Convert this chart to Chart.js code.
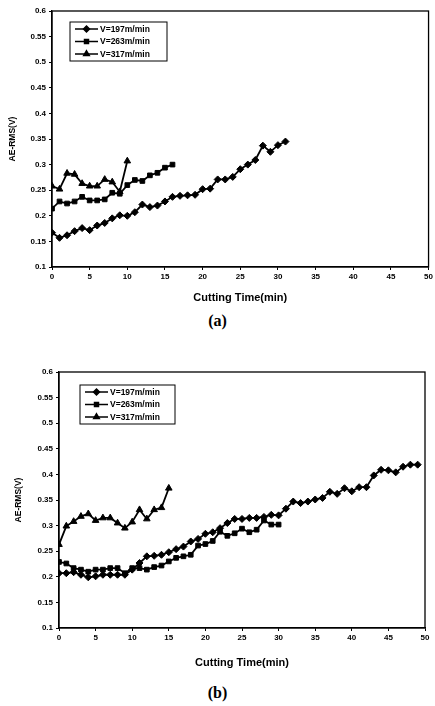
<!DOCTYPE html>
<html>
<head>
<meta charset="utf-8">
<script src="https://cdn.jsdelivr.net/npm/chart.js@4.4.0/dist/chart.umd.min.js"></script>
<style>
  body { margin: 0; background: #fff; width: 435px; height: 706px; position: relative; overflow: hidden; }
  .box { position: absolute; left: 0; width: 435px; }
  .cap { position: absolute; left: 0; width: 435px; text-align: center; font: bold 16px "Liberation Serif", serif; color: #000; }
</style>
</head>
<body>
<div class="box" style="top:0;height:305px"><canvas id="chartA"></canvas></div>
<div class="cap" style="top:312px">(a)</div>
<div class="box" style="top:360px;height:310px"><canvas id="chartB"></canvas></div>
<div class="cap" style="top:684px">(b)</div>
<script>
const labels = ['V=197m/min', 'V=263m/min', 'V=317m/min'];
const xTicks = [0, 5, 10, 15, 20, 25, 30, 35, 40, 45, 50];
const yTicks = [0.1, 0.15, 0.2, 0.25, 0.3, 0.35, 0.4, 0.45, 0.5, 0.55, 0.6];
const yTickLabels = ['0.1', '0.15', '0.2', '0.25', '0.3', '0.35', '0.4', '0.45', '0.5', '0.55', '0.6'];

// (a) values, one per minute starting at 0
const a197 = [0.167, 0.157, 0.162, 0.170, 0.176, 0.172, 0.181, 0.186, 0.195, 0.201, 0.200, 0.207, 0.222, 0.217, 0.220, 0.228,
  0.237, 0.239, 0.240, 0.241, 0.252, 0.253, 0.271, 0.271, 0.276, 0.291, 0.300, 0.309, 0.337, 0.325, 0.338, 0.345];
const a263 = [0.214, 0.228, 0.224, 0.228, 0.237, 0.230, 0.230, 0.232, 0.245, 0.243, 0.260, 0.270, 0.268, 0.279, 0.284, 0.294, 0.300];
const a317 = [0.258, 0.252, 0.283, 0.281, 0.263, 0.258, 0.258, 0.271, 0.266, 0.247, 0.307];

// (b) values, one per minute starting at 0
const b197 = [0.207, 0.207, 0.209, 0.204, 0.199, 0.201, 0.204, 0.204, 0.204, 0.204, 0.214, 0.227, 0.240, 0.241, 0.243, 0.248,
  0.254, 0.259, 0.269, 0.274, 0.284, 0.287, 0.295, 0.305, 0.313, 0.313, 0.315, 0.315, 0.317, 0.321, 0.320, 0.333,
  0.347, 0.344, 0.347, 0.351, 0.354, 0.366, 0.362, 0.373, 0.367, 0.375, 0.375, 0.398, 0.409, 0.408, 0.404, 0.415,
  0.419, 0.419];
const b263 = [0.229, 0.226, 0.217, 0.214, 0.210, 0.214, 0.214, 0.217, 0.217, 0.207, 0.217, 0.217, 0.214, 0.219, 0.222, 0.230,
  0.237, 0.240, 0.243, 0.261, 0.264, 0.270, 0.288, 0.280, 0.285, 0.294, 0.287, 0.292, 0.310, 0.302, 0.302];
const b317 = [0.263, 0.299, 0.308, 0.318, 0.323, 0.310, 0.315, 0.315, 0.305, 0.295, 0.307, 0.331, 0.313, 0.331, 0.335, 0.373];

const styles = [
  { pointStyle: 'rectRot', pointRadius: 3.5 },
  { pointStyle: 'rect', pointRadius: 3.3 },
  { pointStyle: 'triangle', pointRadius: 3.8 }
];

function toPoints(vals) {
  return vals.map((v, i) => ({ x: i, y: v }));
}

const framePlugin = {
  id: 'frame',
  afterDraw(chart, args, opts) {
    const { ctx, chartArea: a } = chart;
    ctx.save();
    ctx.strokeStyle = '#000';
    ctx.lineWidth = 1.3;
    ctx.strokeRect(a.left, a.top, a.right - a.left, a.bottom - a.top);

    // legend box
    const lg = opts.legend;
    ctx.lineWidth = 1;
    ctx.strokeRect(lg.x, lg.y, lg.w, lg.h);
    ctx.font = 'bold 8.5px "Liberation Sans", Arial, sans-serif';
    ctx.textBaseline = 'middle';
    ctx.fillStyle = '#000';
    chart.data.datasets.forEach((ds, i) => {
      const yy = lg.y + 7 + i * 12.5;
      ctx.lineWidth = 1.5;
      ctx.beginPath();
      ctx.moveTo(lg.x + 5, yy);
      ctx.lineTo(lg.x + 28, yy);
      ctx.stroke();
      Chart.helpers.drawPoint(ctx, { pointStyle: ds.pointStyle, radius: ds.pointRadius * 0.85, rotation: 0, borderWidth: 1 }, lg.x + 16.5, yy);
      ctx.fillText(ds.label, lg.x + 30, yy + 0.5);
    });
    ctx.restore();
  }
};

function makeChart(id, series, yw, xh, pad, legend) {
  const datasets = series.map((vals, i) => ({
    label: labels[i],
    data: toPoints(vals),
    borderColor: '#000',
    backgroundColor: '#000',
    borderWidth: 1.8,
    pointStyle: styles[i].pointStyle,
    pointRadius: styles[i].pointRadius,
    pointBorderWidth: 1,
    tension: 0
  }));
  return new Chart(document.getElementById(id), {
    type: 'line',
    data: { datasets },
    options: {
      responsive: true,
      maintainAspectRatio: false,
      animation: false,
      layout: { padding: pad },
      plugins: {
        legend: { display: false },
        tooltip: { enabled: false },
        frame: { legend }
      },
      scales: {
        x: {
          type: 'linear',
          min: 0,
          max: 50,
          afterBuildTicks: s => { s.ticks = xTicks.map(v => ({ value: v })); },
          afterFit: s => { s.height = xh; },
          grid: { drawOnChartArea: false, color: '#000', tickLength: 3, lineWidth: 1 },
          border: { color: '#000', width: 1.3 },
          ticks: { color: '#000', maxRotation: 0, padding: 2, font: { family: '"Liberation Sans", Arial', size: 8, weight: 'bold' } },
          title: { display: true, text: 'Cutting Time(min)', color: '#000', padding: { top: 2, bottom: 0 },
            font: { family: '"Liberation Sans", Arial', size: 11, weight: 'bold' } }
        },
        y: {
          min: 0.1,
          max: 0.6,
          afterBuildTicks: s => { s.ticks = yTicks.map(v => ({ value: v })); },
          afterFit: s => { s.width = yw; },
          grid: { drawOnChartArea: false, color: '#000', tickLength: 3, lineWidth: 1 },
          border: { color: '#000', width: 1.3 },
          ticks: { color: '#000', padding: 3, callback: (v) => yTickLabels[yTicks.findIndex(t => Math.abs(t - v) < 1e-6)],
            font: { family: '"Liberation Sans", Arial', size: 8, weight: 'bold' } },
          title: { display: true, text: 'AE-RMS(V)', color: '#000', padding: { top: 0, bottom: 2 },
            font: { family: '"Liberation Sans", Arial', size: 8.5, weight: 'bold' } }
        }
      }
    },
    plugins: [framePlugin]
  });
}

makeChart('chartA', [a197, a263, a317], 44, 38, { top: 11, right: 4, left: 8, bottom: 0 }, { x: 70, y: 22, w: 97, h: 39 });
makeChart('chartB', [b197, b263, b317], 45, 42, { top: 12, right: 10, left: 14, bottom: 0 }, { x: 80, y: 25, w: 95, h: 39 });
</script>
</body>
</html>
